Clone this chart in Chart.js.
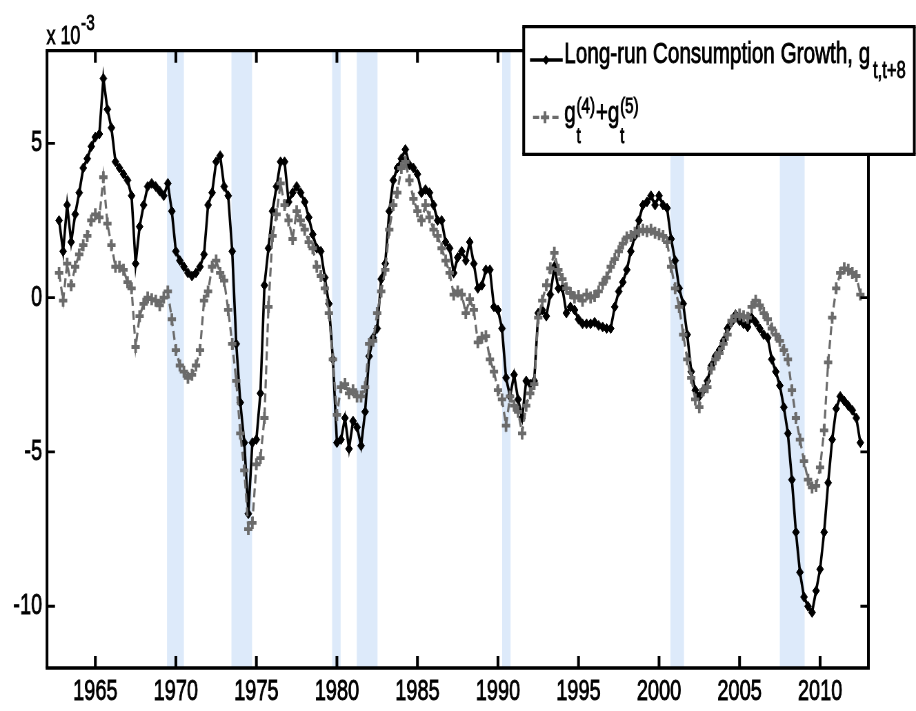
<!DOCTYPE html>
<html><head><meta charset="utf-8">
<script src="https://cdn.jsdelivr.net/npm/chart.js@4.4.0/dist/chart.umd.min.js"></script>
<style>
html,body{margin:0;padding:0;background:#fff;overflow:hidden;}
#wrap{width:916px;height:711px;overflow:hidden;position:relative;background:#fff;}
#c{position:absolute;left:0;top:0;transform-origin:0 0;}
</style></head><body>
<div id="wrap"><canvas id="c" width="1328" height="711"></canvas></div>
<script>
// ---------------- data ----------------
const firstQuarter = 1962.75;   // date of first observation (quarterly)
const longRunGrowth = [
 2.5,1.5,3.0,1.8,2.7,3.4,4.2,4.5,4.9,5.2,
 5.3,7.1,6.1,5.5,4.4,4.2,4.0,3.8,3.3,1.1,
 2.3,3.0,3.6,3.7,3.6,3.45,3.3,3.7,2.8,1.5,
 1.2,1.0,0.8,0.7,0.8,1.0,1.4,3.0,3.4,4.4,
 4.6,3.6,3.3,1.5,-1.5,-3.4,-4.7,-7.0,-4.7,-4.6,
 -3.1,0.4,1.6,2.8,3.6,4.4,4.4,3.1,3.4,3.6,
 3.4,3.1,2.6,2.05,1.6,1.5,0.65,-0.2,-2.0,-4.7,
 -4.6,-3.9,-4.9,-4.0,-4.2,-4.8,-3.7,-1.9,-1.3,-1.0,
 0.6,1.1,2.8,3.8,4.2,4.5,4.8,4.3,4.2,4.0,
 3.4,3.5,3.4,3.0,2.5,2.5,1.8,1.6,0.8,1.3,
 1.5,1.2,1.8,1.1,0.3,0.4,0.9,0.9,-0.3,-0.4,
 -1.0,-2.6,-3.2,-2.5,-3.3,-3.9,-2.7,-2.8,-2.7,-0.5,
 -0.4,-0.6,0.1,1.0,0.3,0.3,-0.5,-0.3,-0.4,-0.7,
 -0.85,-0.85,-0.85,-0.8,-0.9,-0.95,-1.0,-1.0,-0.3,0.2,
 0.5,0.9,1.5,2.0,2.5,3.0,3.1,3.3,3.0,3.3,
 3.0,2.9,1.9,1.2,0.3,-0.2,-1.2,-2.4,-3.0,-3.2,
 -3.0,-2.7,-2.2,-1.9,-1.7,-1.4,-1.0,-0.8,-0.55,-0.75,
 -0.85,-0.95,-0.65,-0.8,-1.0,-1.2,-1.3,-2.0,-2.4,-2.85,
 -3.55,-4.4,-5.9,-7.6,-8.9,-9.7,-10.0,-10.2,-9.5,-8.8,
 -7.6,-6.0,-4.6,-3.6,-3.2,-3.35,-3.5,-3.65,-3.9,-4.7
];
const g4PlusG5 = [
 0.8,-0.1,1.1,0.4,1.0,1.4,1.7,2.0,2.5,2.7,
 2.6,3.9,2.4,1.7,1.0,1.0,0.9,0.5,0.3,-1.6,
 -0.6,-0.2,0.0,-0.05,-0.1,-0.25,0.0,0.2,-0.7,-1.7,
 -2.2,-2.4,-2.6,-2.5,-2.2,-1.7,-0.1,0.2,1.0,1.2,
 0.8,0.55,-0.4,-1.5,-2.7,-4.4,-5.6,-7.5,-7.3,-5.4,
 -5.2,-3.9,-0.3,2.0,2.7,3.7,3.0,2.5,1.9,2.8,
 2.5,2.2,1.8,1.6,1.0,0.7,0.3,-0.5,-2.0,-3.8,
 -2.9,-2.8,-3.1,-3.0,-3.2,-3.2,-2.9,-1.5,-1.4,-0.5,
 0.2,0.9,2.2,3.0,3.4,4.2,4.4,3.8,3.2,2.8,
 2.5,3.0,2.6,2.2,2.0,1.6,1.2,0.8,0.1,0.2,
 0.1,-0.5,-0.05,-0.4,-1.45,-1.3,-1.25,-2.0,-2.4,-3.0,
 -3.3,-4.15,-3.2,-3.5,-3.7,-4.4,-3.5,-3.1,-2.8,-0.65,
 -0.1,0.4,0.95,1.45,0.9,0.6,0.3,0.15,0.0,0.05,
 -0.1,0.1,0.0,0.05,0.2,0.45,0.65,1.0,1.25,1.5,
 1.75,1.95,2.0,2.1,2.15,2.2,2.15,2.2,2.1,2.05,
 2.0,1.8,1.0,0.3,-0.3,-1.2,-2.0,-2.6,-3.3,-3.55,
 -3.0,-2.9,-2.3,-2.0,-1.8,-1.5,-1.2,-0.75,-0.6,-0.55,
 -0.6,-0.65,-0.3,-0.1,-0.25,-0.5,-0.7,-1.0,-1.2,-1.4,
 -1.7,-2.0,-3.0,-3.9,-4.6,-5.3,-5.9,-6.15,-6.1,-5.5,
 -4.3,-2.1,-0.65,0.3,0.8,0.95,0.9,0.8,0.7,0.1
];
const recessionStarts = [1969.45, 1973.45, 1979.7, 1981.23, 1990.26, 2000.71, 2007.5];
const recessionEnds   = [1970.5, 1974.73, 1980.23, 1982.52, 1990.78, 2001.55, 2009.04];
const xTickValues = [1965, 1970, 1975, 1980, 1985, 1990, 1995, 2000, 2005, 2010];
const yTickValues = [-10, -5, 0, 5];
const xRange = [1962, 2013];
const yRange = [-12, 8];
const legendLabel1 = 'Long-run Consumption Growth, g';
const legendSub1 = 't,t+8';
const scaleLabel = 'x 10';
const scaleExp = '-3';

// ---------------- layout ----------------
const CW = 1328, CH = 711;
const SX = 916 / CW;                 // horizontal squeeze of the figure
document.getElementById('c').style.transform = 'scaleX(' + SX + ')';
const P = v => v / SX;               // target x -> canvas x
const FONT = '"Liberation Sans", Arial, Helvetica, sans-serif';
const GRAY = '#6b6b6b';
const TSTROKE = 0.9;

const dates = longRunGrowth.map((_, i) => firstQuarter + 0.25 * i);
const ptsA = longRunGrowth.map((v, i) => ({x: dates[i], y: v}));
const ptsB = g4PlusG5.map((v, i) => ({x: dates[i], y: v}));

function txt(ctx, s, x, y) {
  ctx.fillText(s, x, y);
  ctx.strokeText(s, x, y);
}

const bandsPlugin = {
  id: 'bands',
  beforeDatasetsDraw(chart) {
    const {ctx, chartArea: a, scales: {x}} = chart;
    ctx.save();
    ctx.fillStyle = 'rgb(221,234,250)';
    recessionStarts.forEach((s, k) => {
      const x0 = x.getPixelForValue(s), x1 = x.getPixelForValue(recessionEnds[k]);
      ctx.fillRect(x0, a.top, x1 - x0, a.bottom - a.top);
    });
    ctx.restore();
  }
};

const framePlugin = {
  id: 'frame',
  afterDatasetsDraw(chart) {
    const {ctx, chartArea: a, scales: {x, y}} = chart;
    ctx.save();
    ctx.strokeStyle = '#000';
    ctx.lineWidth = 3.3;
    ctx.beginPath();
    ctx.moveTo(a.left - 2, a.top); ctx.lineTo(a.right + 2, a.top);
    ctx.moveTo(a.left - 2, a.bottom); ctx.lineTo(a.right + 2, a.bottom);
    ctx.stroke();
    ctx.lineWidth = 4;
    ctx.beginPath();
    ctx.moveTo(a.left, a.top); ctx.lineTo(a.left, a.bottom);
    ctx.moveTo(a.right, a.top); ctx.lineTo(a.right, a.bottom);
    ctx.stroke();
    ctx.lineWidth = 4;
    ctx.beginPath();
    xTickValues.forEach(t => {
      const px = x.getPixelForValue(t);
      ctx.moveTo(px, a.bottom); ctx.lineTo(px, a.bottom - 12);
      ctx.moveTo(px, a.top); ctx.lineTo(px, a.top + 12);
    });
    ctx.stroke();
    ctx.lineWidth = 2.8;
    ctx.beginPath();
    yTickValues.forEach(v => {
      const py = y.getPixelForValue(v);
      ctx.moveTo(a.left, py); ctx.lineTo(a.left + 11.6, py);
      ctx.moveTo(a.right, py); ctx.lineTo(a.right - 11.6, py);
    });
    ctx.stroke();
    ctx.restore();
  },
  afterDraw(chart) {
    const {ctx} = chart;
    ctx.save();
    ctx.fillStyle = '#000';
    ctx.strokeStyle = '#000';
    ctx.lineWidth = TSTROKE;
    ctx.textBaseline = 'alphabetic';
    // exponent label
    ctx.font = '26px ' + FONT;
    txt(ctx, scaleLabel, P(46.5), 44);
    const w0 = ctx.measureText(scaleLabel).width;
    ctx.font = '22px ' + FONT;
    txt(ctx, scaleExp, P(46.5) + w0 + 1, 30);

    // legend box
    const L = P(523.7), R = P(914.3), T = 26.7, B = 154.3;
    ctx.fillStyle = '#fff';
    ctx.fillRect(L, T, R - L, B - T);
    ctx.strokeStyle = '#000';
    ctx.lineWidth = 3.3;
    ctx.beginPath(); ctx.moveTo(L - 2, T); ctx.lineTo(R + 2, T); ctx.moveTo(L - 2, B); ctx.lineTo(R + 2, B); ctx.stroke();
    ctx.lineWidth = 4;
    ctx.beginPath(); ctx.moveTo(L, T); ctx.lineTo(L, B); ctx.moveTo(R, T); ctx.lineTo(R, B); ctx.stroke();

    // entry 1 sample
    const y1 = 60;
    ctx.strokeStyle = '#000'; ctx.lineWidth = 3.6;
    ctx.beginPath(); ctx.moveTo(P(530), y1); ctx.lineTo(P(562.7), y1); ctx.stroke();
    const cx1 = P(546), r1 = 5;
    ctx.fillStyle = '#000';
    ctx.beginPath(); ctx.moveTo(cx1 - r1, y1); ctx.lineTo(cx1, y1 - r1); ctx.lineTo(cx1 + r1, y1); ctx.lineTo(cx1, y1 + r1); ctx.closePath(); ctx.fill();
    // entry 2 sample
    const y2 = 117.3;
    ctx.strokeStyle = GRAY; ctx.lineWidth = 3.2;
    ctx.setLineDash([9, 5]);
    ctx.beginPath(); ctx.moveTo(P(533), y2); ctx.lineTo(P(562), y2); ctx.stroke();
    ctx.setLineDash([]);
    const cx2 = P(545), r2 = 6;
    ctx.lineWidth = 3.8;
    ctx.beginPath(); ctx.moveTo(cx2 - r2, y2); ctx.lineTo(cx2 + r2, y2); ctx.moveTo(cx2, y2 - r2); ctx.lineTo(cx2, y2 + r2); ctx.stroke();

    // entry 1 text
    ctx.fillStyle = '#000';
    ctx.strokeStyle = '#000';
    ctx.lineWidth = TSTROKE;
    ctx.font = '30px ' + FONT;
    let tx = P(564.3);
    txt(ctx, legendLabel1, tx, 63.4);
    tx += ctx.measureText(legendLabel1).width + 4;
    ctx.font = '24px ' + FONT;
    txt(ctx, legendSub1, tx, 77.5);

    // entry 2 text: g_t^(4)+g_t^(5)
    const drawG = (sup, x0) => {
      ctx.font = '30px ' + FONT;
      txt(ctx, 'g', x0, 122);
      let xx = x0 + ctx.measureText('g').width + 1;
      ctx.font = '22px ' + FONT;
      txt(ctx, sup, xx, 113);
      txt(ctx, 't', xx, 143);
      return xx + Math.max(ctx.measureText(sup).width, ctx.measureText('t').width) + 1;
    };
    let x2 = drawG('(4)', P(564.3));
    ctx.font = '30px ' + FONT;
    txt(ctx, '+', x2, 122);
    x2 += ctx.measureText('+').width;
    drawG('(5)', x2);
    ctx.restore();
  }
};

new Chart(document.getElementById('c'), {
  type: 'line',
  data: {
    datasets: [
      {
        label: 'Long-run Consumption Growth, g t,t+8',
        data: ptsA,
        order: 2,
        borderColor: '#000',
        borderWidth: 3.6,
        pointStyle: 'rectRot',
        pointRadius: 5,
        pointBackgroundColor: '#000',
        pointBorderColor: '#000',
        pointBorderWidth: 1,
        tension: 0,
        fill: false
      },
      {
        label: 'g t(4) + g t(5)',
        data: ptsB,
        order: 1,
        borderColor: GRAY,
        borderWidth: 3.2,
        borderDash: [9, 5],
        pointStyle: 'cross',
        pointRadius: 6,
        pointBorderWidth: 3.8,
        pointBorderColor: GRAY,
        pointBackgroundColor: GRAY,
        tension: 0,
        fill: false
      }
    ]
  },
  options: {
    responsive: false,
    animation: false,
    devicePixelRatio: 1,
    events: [],
    layout: { autoPadding: false, padding: { left: 0, top: 50.7, right: CW - 1259, bottom: 0 } },
    plugins: { legend: { display: false }, tooltip: { enabled: false }, title: { display: false } },
    scales: {
      x: {
        type: 'linear',
        min: xRange[0], max: xRange[1],
        grid: { display: false, drawTicks: false },
        border: { display: false },
        afterBuildTicks: s => { s.ticks = xTickValues.map(v => ({value: v})); },
        afterFit: s => { s.height = CH - 668; },
        ticks: {
          autoSkip: false, maxRotation: 0, minRotation: 0,
          padding: 7, color: '#000',
          textStrokeColor: '#000', textStrokeWidth: TSTROKE,
          font: { family: FONT, size: 29 },
          callback: v => String(v)
        }
      },
      y: {
        type: 'linear',
        min: yRange[0], max: yRange[1],
        grid: { display: false, drawTicks: false },
        border: { display: false },
        afterBuildTicks: s => { s.ticks = yTickValues.map(v => ({value: v})); },
        afterFit: s => { s.width = P(47); },
        ticks: {
          padding: 7, color: '#000',
          textStrokeColor: '#000', textStrokeWidth: TSTROKE,
          font: { family: FONT, size: 29 },
          callback: v => String(v)
        }
      }
    }
  },
  plugins: [bandsPlugin, framePlugin]
});
</script>
</body></html>
